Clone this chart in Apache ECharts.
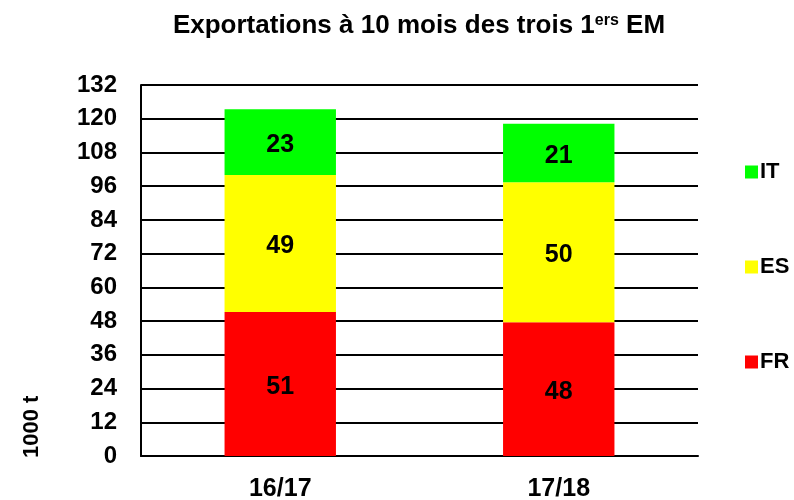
<!DOCTYPE html>
<html>
<head>
<meta charset="utf-8">
<script src="https://cdn.jsdelivr.net/npm/echarts@6/dist/echarts.min.js"></script>
<style>
  html, body { margin: 0; padding: 0; background: #fff; }
  #chart { width: 794px; height: 500px; }
</style>
</head>
<body>
<div id="chart"></div>
<script>
const categories = ["16/17", "17/18"];
const frValues = [51.2, 47.6];
const esValues = [48.8, 49.8];
const itValues = [23.4, 20.8];
const yTicks = [0, 12, 24, 36, 48, 60, 72, 84, 96, 108, 120, 132];

const font = "Liberation Sans, Arial, sans-serif";

let chart = echarts.init(document.getElementById("chart"));

function barSeries(name, data, color) {
  return {
    name: name,
    type: "bar",
    stack: "total",
    barWidth: "40%",
    data: data,
    itemStyle: { color: color },
    label: {
      show: true,
      position: "inside",
      offset: [0, 3],
      color: "#000",
      fontFamily: font,
      fontWeight: "bold",
      fontSize: 25,
      formatter: (p) => Math.round(p.value),
    },
  };
}

chart.setOption({
  animation: false,
  title: {
    text: "Exportations à 10 mois des trois 1{sup|ers} EM",
    left: 414,
    textAlign: "center",
    top: 8,
    textStyle: {
      fontFamily: font,
      fontWeight: "bold",
      fontSize: 26,
      color: "#000",
      rich: {
        sup: {
          fontFamily: font,
          fontWeight: "bold",
          fontSize: 16,
          color: "#000",
          verticalAlign: "top",
          padding: [0, 0, 10, 0],
        },
      },
    },
  },
  legend: {
    orient: "vertical",
    left: 740,
    top: 156,
    itemGap: 73,
    itemWidth: 13,
    itemHeight: 13,
    icon: "rect",
    data: ["IT", "ES", "FR"],
    textStyle: {
      fontFamily: font,
      fontWeight: "bold",
      fontSize: 22,
      color: "#000",
      padding: [0, 0, 0, -3],
    },
  },
  grid: {
    left: 141,
    right: 96,
    top: 85,
    bottom: 44,
    outerBoundsMode: "none",
  },
  xAxis: {
    type: "category",
    data: categories,
    axisLine: { lineStyle: { color: "#000", width: 2 } },
    axisTick: { show: false },
    axisLabel: {
      color: "#000",
      fontFamily: font,
      fontWeight: "bold",
      fontSize: 25,
      margin: 21,
    },
  },
  yAxis: {
    type: "value",
    min: yTicks[0],
    max: yTicks[yTicks.length - 1],
    interval: 12,
    axisLine: { show: true, lineStyle: { color: "#000", width: 2 } },
    axisTick: { show: false },
    axisLabel: {
      color: "#000",
      fontFamily: font,
      fontWeight: "bold",
      fontSize: 24,
      margin: 24,
    },
    splitLine: { lineStyle: { color: "#000", width: 2 } },
  },
  graphic: [
    {
      type: "text",
      x: 32,
      y: 458,
      rotation: Math.PI / 2,
      style: {
        text: "1000 t",
        fontFamily: font,
        fontWeight: "bold",
        fontSize: 22,
        fill: "#000",
        align: "left",
        verticalAlign: "middle",
      },
    },
  ],
  series: [
    barSeries("FR", frValues, "#ff0000"),
    barSeries("ES", esValues, "#ffff00"),
    barSeries("IT", itValues, "#00ff00"),
  ],
});
</script>
</body>
</html>
